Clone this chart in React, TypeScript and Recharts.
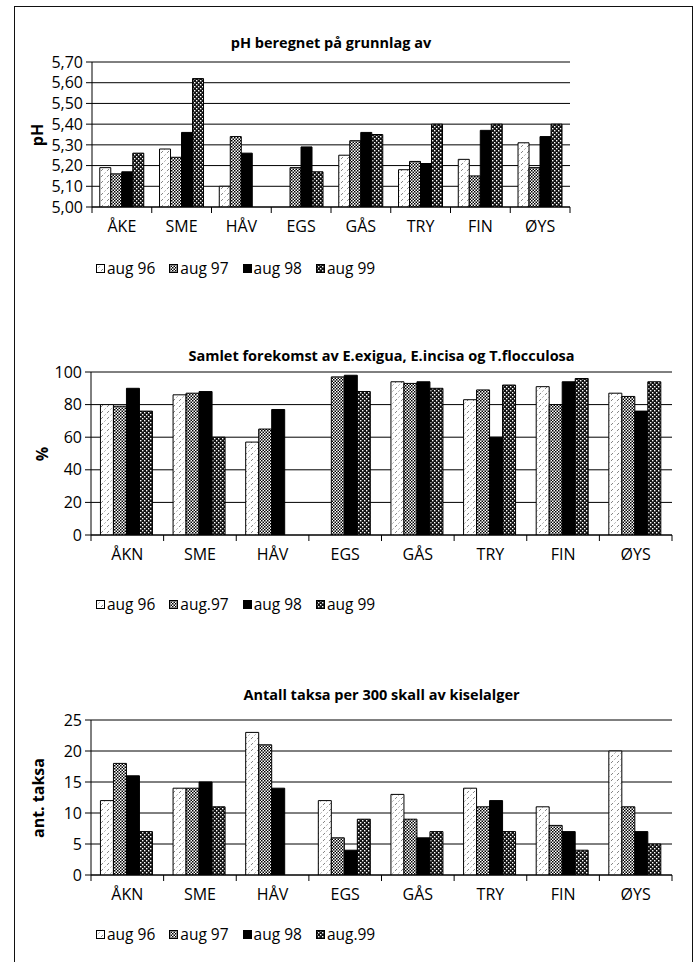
import React from 'react';
import { BarChart, Bar, XAxis, YAxis, CartesianGrid } from 'recharts';

// sampling sites
const sitesPh = ['ÅKE', 'SME', 'HÅV', 'EGS', 'GÅS', 'TRY', 'FIN', 'ØYS'];
const sitesAlt = ['ÅKN', 'SME', 'HÅV', 'EGS', 'GÅS', 'TRY', 'FIN', 'ØYS'];

// pH beregnet
const ph96 = [5.19, 5.28, 5.1, null, 5.25, 5.18, 5.23, 5.31];
const ph97 = [5.16, 5.24, 5.34, 5.19, 5.32, 5.22, 5.15, 5.19];
const ph98 = [5.17, 5.36, 5.26, 5.29, 5.36, 5.21, 5.37, 5.34];
const ph99 = [5.26, 5.62, null, 5.17, 5.35, 5.4, 5.4, 5.4];
const phTicks = [5.0, 5.1, 5.2, 5.3, 5.4, 5.5, 5.6, 5.7];

// samlet forekomst (%)
const pct96 = [80, 86, 57, null, 94, 83, 91, 87];
const pct97 = [79, 87, 65, 97, 93, 89, 80, 85];
const pct98 = [90, 88, 77, 98, 94, 60, 94, 76];
const pct99 = [76, 60, null, 88, 90, 92, 96, 94];
const pctTicks = [0, 20, 40, 60, 80, 100];

// antall taksa
const taxa96 = [12, 14, 23, 12, 13, 14, 11, 20];
const taxa97 = [18, 14, 21, 6, 9, 11, 8, 11];
const taxa98 = [16, 15, 14, 4, 6, 12, 7, 7];
const taxa99 = [7, 11, null, 9, 7, 7, 4, 5];
const taxaTicks = [0, 5, 10, 15, 20, 25];

const legendPh = ['aug 96', 'aug 97', 'aug 98', 'aug 99'];
const legendPct = ['aug 96', 'aug.97', 'aug 98', 'aug 99'];
const legendTaxa = ['aug 96', 'aug 97', 'aug 98', 'aug.99'];

const FILLS = ['url(#p96)', 'url(#p97)', '#000', 'url(#p99)'];
const FONT = '"Open Sans", "Noto Sans", sans-serif';

const Patterns = () => (
  <svg width={0} height={0} style={{ position: 'absolute' }}>
    <defs>
      <pattern id="p96" width={6} height={6} patternUnits="userSpaceOnUse">
        <rect width={6} height={6} fill="#fff" />
        <line x1={0} y1={6} x2={6} y2={0} stroke="#777" strokeWidth={0.9} strokeDasharray="1.5 2" />
      </pattern>
      <pattern id="p97" width={3} height={3} patternUnits="userSpaceOnUse">
        <rect width={3} height={3} fill="#fff" />
        <rect width={1.5} height={1.5} fill="#000" />
        <rect x={1.5} y={1.5} width={1.5} height={1.5} fill="#000" />
      </pattern>
      <pattern id="p99" width={4} height={4} patternUnits="userSpaceOnUse">
        <rect width={4} height={4} fill="#111" />
        <rect width={1.4} height={1.4} fill="#fff" />
        <rect x={2} y={2} width={1.4} height={1.4} fill="#fff" />
      </pattern>
    </defs>
  </svg>
);

type PanelProps = {
  title: string;
  yLabel: string;
  sites: string[];
  series: (number | null)[][];
  legend: string[];
  ticks: number[];
  format: (v: number) => string;
  top: number;
  plotTop: number;
  plotBottom: number;
  plotLeft: number;
  plotRight: number;
  titleY: number;
  legendY: number;
  yLabelX: number;
};

function Panel(p: PanelProps) {
  const data = p.sites.map((site, i) => ({
    site,
    s0: p.series[0][i],
    s1: p.series[1][i],
    s2: p.series[2][i],
    s3: p.series[3][i],
  }));
  const bw = (p.plotRight - p.plotLeft) / p.sites.length;
  const height = p.plotBottom - p.top + 40;

  // site name centred in its band, tick marks on the band edges
  const SiteTick = (props: any) => {
    const { x, y, payload, index } = props;
    return (
      <g>
        <line x1={x - bw / 2} y1={y} x2={x - bw / 2} y2={y + 6} stroke="#000" />
        {index === p.sites.length - 1 && (
          <line x1={x + bw / 2} y1={y} x2={x + bw / 2} y2={y + 6} stroke="#000" />
        )}
        <text x={x} y={y + 19} textAnchor="middle" dominantBaseline="central" fontSize={16} fill="#000">
          {payload.value}
        </text>
      </g>
    );
  };

  return (
    <>
      <div
        style={{
          position: 'absolute', top: p.titleY - 10, left: (p.plotLeft + p.plotRight) / 2 - 300, width: 600,
          textAlign: 'center', fontWeight: 700, fontSize: 14.5, lineHeight: '20px', whiteSpace: 'nowrap',
        }}
      >
        {p.title}
      </div>
      <div
        style={{
          position: 'absolute', left: p.yLabelX - 60, width: 120, top: (p.plotTop + p.plotBottom) / 2 - 10,
          textAlign: 'center', fontWeight: 700, fontSize: 16, lineHeight: '20px', transform: 'rotate(-90deg)',
        }}
      >
        {p.yLabel}
      </div>
      <div style={{ position: 'absolute', top: p.top, left: 0 }}>
        <BarChart
          width={699}
          height={height}
          data={data}
          margin={{ top: p.plotTop - p.top, right: 699 - p.plotRight, left: 0, bottom: 0 }}
          barCategoryGap="13%"
          barGap={0}
        >
          <CartesianGrid vertical={false} stroke="#000" strokeWidth={1} />
          <XAxis
            dataKey="site"
            height={40}
            tickLine={false}
            tickSize={0}
            tickMargin={0}
            interval={0}
            axisLine={{ stroke: '#000' }}
            tick={<SiteTick />}
          />
          <YAxis
            width={p.plotLeft}
            domain={[p.ticks[0], p.ticks[p.ticks.length - 1]]}
            ticks={p.ticks}
            interval={0}
            tickFormatter={p.format}
            tickSize={6}
            tickMargin={3}
            axisLine={{ stroke: '#000' }}
            tickLine={{ stroke: '#000' }}
            tick={{ fill: '#000', fontSize: 16 }}
            allowDataOverflow
          />
          {[0, 1, 2, 3].map((k) => (
            <Bar key={k} dataKey={`s${k}`} fill={FILLS[k]} stroke="#000" strokeWidth={1} isAnimationActive={false} />
          ))}
        </BarChart>
      </div>
      <div
        style={{
          position: 'absolute', top: p.legendY - 10, left: 96, display: 'flex', alignItems: 'center',
          fontSize: 15.5, lineHeight: '20px', whiteSpace: 'nowrap',
        }}
      >
        {p.legend.map((name, k) => (
          <span key={name} style={{ display: 'inline-flex', alignItems: 'center', marginRight: 14 }}>
            <svg width={9} height={9} style={{ marginRight: 2 }}>
              <rect x={0.5} y={0.5} width={8} height={8} fill={FILLS[k]} stroke="#000" />
            </svg>
            {name}
          </span>
        ))}
      </div>
    </>
  );
}

const comma = (d: number) => (v: number) => v.toFixed(d).replace('.', ',');

export default function App() {
  return (
    <div
      style={{
        position: 'absolute', left: 0, top: 0, width: 699, height: 962, overflow: 'hidden',
        background: '#fff', fontFamily: FONT, color: '#000',
      }}
    >
      <Patterns />
      <div
        style={{
          position: 'absolute', left: 14, top: 6, width: 679, height: 1000,
          border: '1.5px solid #111', boxSizing: 'border-box',
        }}
      />
      <Panel
        title="pH beregnet på grunnlag av"
        yLabel="pH"
        sites={sitesPh}
        series={[ph96, ph97, ph98, ph99]}
        legend={legendPh}
        ticks={phTicks}
        format={comma(2)}
        top={20}
        plotTop={62}
        plotBottom={207}
        plotLeft={92}
        plotRight={570}
        titleY={43}
        legendY={268}
        yLabelX={37}
      />
      <Panel
        title="Samlet forekomst av E.exigua, E.incisa og T.flocculosa"
        yLabel="%"
        sites={sitesAlt}
        series={[pct96, pct97, pct98, pct99]}
        legend={legendPct}
        ticks={pctTicks}
        format={comma(0)}
        top={340}
        plotTop={372}
        plotBottom={535}
        plotLeft={91}
        plotRight={672}
        titleY={356}
        legendY={604}
        yLabelX={42}
      />
      <Panel
        title="Antall taksa per 300 skall av kiselalger"
        yLabel="ant. taksa"
        sites={sitesAlt}
        series={[taxa96, taxa97, taxa98, taxa99]}
        legend={legendTaxa}
        ticks={taxaTicks}
        format={comma(0)}
        top={690}
        plotTop={720}
        plotBottom={875}
        plotLeft={91}
        plotRight={672}
        titleY={695}
        legendY={934}
        yLabelX={38}
      />
    </div>
  );
}
